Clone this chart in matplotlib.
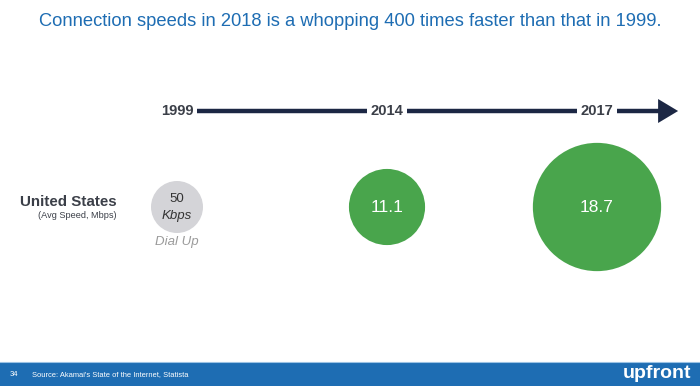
import matplotlib
matplotlib.use("Agg")
import matplotlib.pyplot as plt
from matplotlib.patches import Circle, Rectangle, FancyArrow

plt.rcParams["font.family"] = ["Liberation Sans", "DejaVu Sans"]

# Dados
years = ["1999", "2014", "2017"]
speeds = [0.05, 11.1, 18.7]          # Mbps
speed_labels = ["50\nKbps", "11.1", "18.7"]
year_x = [177, 387, 597]             # posicao de cada ano na linha do tempo

TITLE = "Connection speeds in 2018 is a whopping 400 times faster than that in 1999."
SOURCE = "Source: Akamai's State of the Internet, Statista"

NAVY = "#1c2744"
GREEN = "#49a54c"
GREY = "#d4d4d8"
BLUE = "#1e6db3"

W, H = 700, 386
fig = plt.figure(figsize=(W / 100, H / 100), dpi=100)
ax = fig.add_axes([0, 0, 1, 1])
ax.set_xlim(0, W)
ax.set_ylim(H, 0)
ax.set_aspect("equal")
ax.axis("off")

ax.text(350, 22, TITLE, color=BLUE, fontsize=13.2, ha="center", va="center")

# linha do tempo
ty = 111
for i, (x, yr) in enumerate(zip(year_x, years)):
    ax.text(x, ty, yr, color="#3b3f48", fontsize=10.6, fontweight="bold",
            ha="center", va="center")
    x0 = x + 20
    x1 = year_x[i + 1] - 20 if i + 1 < len(year_x) else 662
    ax.plot([x0, x1], [ty, ty], color=NAVY, lw=3.2, solid_capstyle="butt")
ax.add_patch(FancyArrow(658, ty, 0.1, 0, width=0, head_width=24,
                        head_length=20, length_includes_head=False,
                        color=NAVY, lw=0))

# rotulo da linha
ax.text(117, 202, "United States", color="#3b3f48", fontsize=10.9,
        fontweight="bold", ha="right", va="center")
ax.text(117, 216, "(Avg Speed, Mbps)", color="#3b3f48", fontsize=6.6,
        ha="right", va="center")

# bolhas: raio proporcional a velocidade (dial-up com tamanho fixo)
cy = 207
scale = 3.43
for x, v, lab in zip(year_x, speeds, speed_labels):
    if v < 1:
        ax.add_patch(Circle((x, cy), 26, color=GREY, lw=0))
        ax.text(x, cy - 8, lab.split("\n")[0], color="#333333", fontsize=9.5,
                ha="center", va="center")
        ax.text(x, cy + 9, lab.split("\n")[1], color="#333333", fontsize=9.5,
                style="italic", ha="center", va="center")
        ax.text(x, 242, "Dial Up", color="#9a9a9a", fontsize=9.5,
                style="italic", ha="center", va="center")
    else:
        r = v * scale
        ax.add_patch(Circle((x, cy), r, color=GREEN, lw=0))
        ax.text(x, cy + 1, lab, color="white", fontsize=12.5,
                ha="center", va="center")

# rodape
ax.add_patch(Rectangle((0, 362), W, 24, color=BLUE, lw=0))
ax.plot([0, W], [361.5, 361.5], color="#9cc3e4", lw=0.8)
ax.text(10, 375, "34", color="white", fontsize=5.5, ha="left", va="center")
ax.text(32, 375, SOURCE, color="white", fontsize=5.4, ha="left", va="center")
ax.text(691, 373, "upfront", color="white", fontsize=14, fontweight="bold",
        ha="right", va="center")

fig.savefig("out.png", dpi=100)
